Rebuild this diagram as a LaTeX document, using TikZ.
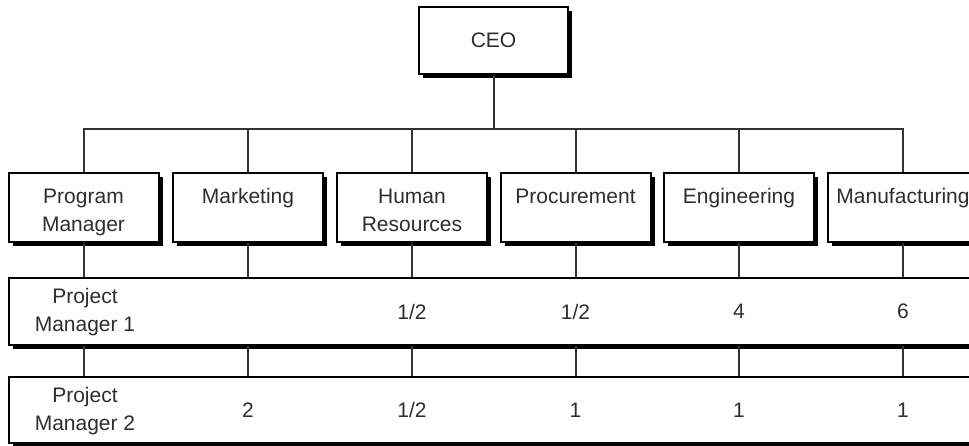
\documentclass[tikz,border=0pt]{standalone}
\usepackage{fontspec}
\setmainfont{Liberation Sans}
\usetikzlibrary{shadows}
\definecolor{ink}{HTML}{2E2E2E}
\definecolor{rule}{HTML}{333333}
\newcommand{\stack}[1]{\begin{tabular}[t]{@{}c@{}}#1\end{tabular}}
\begin{document}
\begin{tikzpicture}[x=1pt,y=-1pt,
  every node/.style={font=\fontsize{21}{27.5}\selectfont, text=ink},
  box/.style={draw=black, line width=2pt, fill=white, inner sep=0pt,
    drop shadow={shadow xshift=4pt, shadow yshift=-4pt, opacity=1, fill=black}},
  dept/.style={box, minimum width=150pt, minimum height=69pt,
    text height=15pt, text depth=22pt},
  band/.style={box, minimum width=981pt},
  cell/.style={inner sep=0pt, align=center},
  link/.style={draw=rule, line width=2pt}]
\useasboundingbox (0,0) rectangle (969,446);
\clip (0,0) rectangle (969,446);

% top of the chart
\node[box, minimum width=149pt, minimum height=67pt] (ceo) at (493.5,40.5) {CEO};

% functional departments
\node[dept] (d1) at (83.5,207.5) {\stack{Program\\Manager}};
\node[dept] (d2) at (248,207.5) {Marketing};
\node[dept] (d3) at (412,207.5) {\stack{Human\\Resources}};
\node[dept] (d4) at (575.5,207.5) {Procurement};
\node[dept] (d5) at (739,207.5) {Engineering};
\node[dept] (d6) at (903,207.5) {Manufacturing};

% project bands across all departments
\node[band, minimum height=67pt] (r1) at (499.5,311.5) {};
\node[band, minimum height=66pt] (r2) at (499.5,410) {};

% reporting lines
\coordinate (bus) at (0,129);
\path[link] (ceo.south) -- (ceo.south |- bus);
\path[link] (d1.north) |- (bus -| d6.north) -- (d6.north);
\foreach \d in {d2,d3,d4,d5}
  \path[link] (\d.north) -- (\d.north |- bus);
\foreach \d in {d1,d2,d3,d4,d5,d6} {
  \path[link] (\d.south) -- (\d.south |- r1.north);
  \path[link] (\d.south |- r1.south) -- (\d.south |- r2.north);
}

% staffing per project
\node[cell] (p1) at (85,312) {Project\\Manager 1};
\node[cell] (p1c3) at (d3 |- r1) {1/2};
\node[cell] (p1c4) at (d4 |- r1) {1/2};
\node[cell] (p1c5) at (d5 |- r1) {4};
\node[cell] (p1c6) at (d6 |- r1) {6};

\node[cell] (p2) at (85,411) {Project\\Manager 2};
\node[cell] (p2c2) at (d2 |- r2) {2};
\node[cell] (p2c3) at (d3 |- r2) {1/2};
\node[cell] (p2c4) at (d4 |- r2) {1};
\node[cell] (p2c5) at (d5 |- r2) {1};
\node[cell] (p2c6) at (d6 |- r2) {1};
\end{tikzpicture}
\end{document}
